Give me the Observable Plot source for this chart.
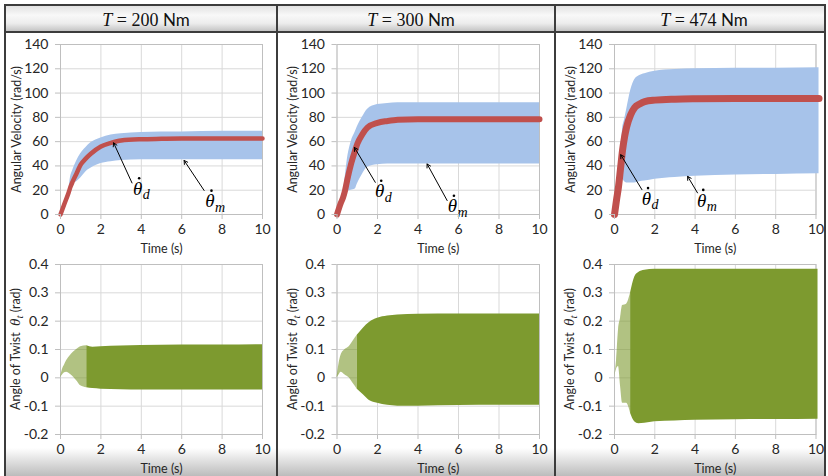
<!DOCTYPE html>
<html><head><meta charset="utf-8">
<script src="https://cdn.jsdelivr.net/npm/d3@7"></script>
<script src="https://cdn.jsdelivr.net/npm/@observablehq/plot@0.6"></script>
<style>
html,body{margin:0;padding:0;background:#fff;}
#fig{position:relative;width:828px;height:476px;overflow:hidden;background:#fff;font-family:Lato,"Open Sans",sans-serif;}
.hdr{position:absolute;top:5px;height:27px;background:linear-gradient(to bottom,#e0e0e0 0%,#f8f8f8 38%,#ececec 68%,#bfbfbf 100%);}
.band{position:absolute;top:448px;height:28px;background:linear-gradient(to bottom,rgba(255,255,255,0) 0%,#dadada 55%,#bcbcbc 100%);}
.ttl{position:absolute;top:5px;height:27px;line-height:29px;font-size:18px;white-space:nowrap;transform:translateX(-50%);color:#111;font-family:"Liberation Serif","DejaVu Serif",serif;}
.ttl i{font-family:"Liberation Serif","DejaVu Serif",serif;}
.ttl .u{font-family:Lato,"Open Sans",sans-serif;font-size:17px;}
.ln{position:absolute;background:#3c3c3c;}
.panel{position:absolute;}
</style></head>
<body>
<div id="fig"></div>
<script>
// ---------- data ----------
const torques = ["200", "300", "474"];
const xTicks = [0, 2, 4, 6, 8, 10];
const velTicks = [0, 20, 40, 60, 80, 100, 120, 140];
const twistTicks = [-0.2, -0.1, 0, 0.1, 0.2, 0.3, 0.4];

// T = 200 Nm : angular velocity
const t1   = [0, 0.2, 0.4, 0.5, 0.6, 0.8, 1, 1.25, 1.5, 2, 2.5, 3, 4, 5, 6, 8, 10];
const red1 = [0, 9, 18, 23, 27, 34, 41, 46, 50, 56, 59, 61, 62, 62.3, 62.5, 62.5, 62.5];
const hi1  = [0, 9, 19, 31, 36, 44, 50, 55, 59, 63, 65.5, 66.5, 67.5, 68, 68, 68.5, 68.5];
const lo1  = [0, 9, 17, 22, 25, 27, 30, 35, 38, 42, 43.5, 44.5, 45, 45, 45, 45, 45];
// T = 300 Nm
const t2   = [0, 0.2, 0.3, 0.4, 0.5, 0.7, 0.9, 1, 1.25, 1.5, 2, 2.5, 3, 4, 6, 8, 10];
const red2 = [0, 10, 14, 20, 28, 42, 53, 58, 66, 71.5, 75.5, 77, 78, 78.5, 78.5, 78.5, 78.5];
const hi2  = [0, 10, 16, 30, 44, 60, 68, 72, 80, 86.5, 90.5, 91.5, 92, 92, 92, 92, 92];
const lo2  = [0, 10, 13, 18, 19, 20, 21, 25, 33, 39, 41, 41.5, 41.5, 41.5, 41.5, 41.5, 41.5];
// T = 474 Nm
const t3   = [0, 0.1, 0.2, 0.3, 0.4, 0.5, 0.6, 0.8, 1, 1.25, 1.5, 2, 3, 4, 6, 8, 10.15];
const red3 = [0, 12, 23, 38, 53, 64, 72, 82, 88, 91, 93, 94.2, 95, 95.3, 95.5, 95.5, 95.5];
const hi3  = [0, 12, 24, 45, 70, 78, 86, 102, 111, 114.5, 116, 118, 119.5, 120, 120.5, 120.5, 120.8];
const lo3  = [0, 12, 16, 15, 29, 27, 26, 26, 26, 27, 27.5, 29, 30.5, 31.5, 32.5, 33, 33.5];

// angle of twist envelopes
const t4  = [0, 0.1, 0.2, 0.3, 0.5, 0.8, 1, 1.3, 1.6, 2, 3, 4, 6, 8, 10];
const hi4 = [0, 0.03, 0.045, 0.06, 0.08, 0.1, 0.11, 0.113, 0.108, 0.11, 0.112, 0.114, 0.116, 0.116, 0.117];
const lo4 = [0, 0.01, 0.018, 0.02, 0.012, -0.01, -0.028, -0.035, -0.038, -0.04, -0.042, -0.043, -0.043, -0.043, -0.043];
const t5  = [0, 0.1, 0.2, 0.4, 0.6, 0.8, 1, 1.3, 1.6, 2, 2.5, 3, 4, 6, 8, 10];
const hi5 = [0, 0.05, 0.08, 0.1, 0.11, 0.13, 0.15, 0.175, 0.195, 0.21, 0.218, 0.222, 0.224, 0.225, 0.225, 0.225];
const lo5 = [0, 0.01, 0.02, 0.01, 0, -0.02, -0.04, -0.06, -0.08, -0.09, -0.097, -0.1, -0.1, -0.098, -0.097, -0.097];
const t6  = [0, 0.1, 0.2, 0.3, 0.4, 0.6, 0.8, 1, 1.2, 1.5, 2, 3, 4, 6, 8, 10.1];
const hi6 = [0, 0.06, 0.17, 0.21, 0.255, 0.26, 0.3, 0.355, 0.372, 0.38, 0.383, 0.383, 0.383, 0.383, 0.383, 0.383];
const lo6 = [0, 0.03, 0.04, -0.03, -0.09, -0.09, -0.126, -0.155, -0.162, -0.16, -0.155, -0.152, -0.15, -0.148, -0.147, -0.146];

// annotation anchors [label x, label y, arrow start x, y, arrow end x, y]
const annD = [[3.82, 21.2, 3.54, 26, 2.63, 59], [2.11, 19.1, 1.89, 26.5, 0.86, 55.2], [1.59, 13.1, 1.36, 20.5, 0.31, 49.2]];
const annM = [[7.4, 11, 7.11, 19.8, 6.12, 44.5], [5.7, 6.8, 5.44, 11.5, 4.45, 41.6], [4.33, 11.6, 4.12, 17.8, 3.63, 31.4]];
const redWidths = [4.5, 6, 7];
const lightUntil = [1.3, 1.0, 0.8];

// ---------- layout ----------
const fig = document.getElementById("fig");
function div(cls, css, html) {
  const d = document.createElement("div");
  d.className = cls; Object.assign(d.style, css); if (html) d.innerHTML = html;
  fig.appendChild(d); return d;
}
const cells = [[6, 276], [278, 554], [556, 824]];
cells.forEach(([a, b]) => {
  div("hdr", {left: a + "px", width: (b - a) + "px"});
  div("band", {left: a + "px", width: (b - a) + "px"});
});
const ttlX = [146, 411, 704];
torques.forEach((T, i) => div("ttl", {left: ttlX[i] + "px"}, `<i>T</i> = ${T} <span class="u">Nm</span>`));

const frames = [[60, 262], [336.5, 539], [614, 815.5]];
const FONT = "Lato, 'Open Sans', sans-serif";
const serif = "'Liberation Serif', 'DejaVu Serif', serif";

function makePanel(col, row) {
  const [cellL, cellR] = cells[col];
  const [fx0, fx1] = frames[col];
  const top = row === 0 ? 33 : 252;
  const height = 224;
  const mT = row === 0 ? 11 : 12;
  const mB = row === 0 ? 43 : 42;
  const width = cellR - cellL;
  const mL = fx0 - cellL, mR = cellR - fx1;
  const yDomain = row === 0 ? [0, 140] : [-0.2, 0.4];
  const yt = row === 0 ? velTicks : twistTicks;
  const marks = [
    Plot.gridX(xTicks, {stroke: "#d9d9d9", strokeOpacity: 1}),
    Plot.gridY(yt, {stroke: "#d9d9d9", strokeOpacity: 1}),
    Plot.frame({stroke: "#bfbfbf"})
  ];
  if (row === 0) {
    const T = [t1, t2, t3][col], R = [red1, red2, red3][col], H = [hi1, hi2, hi3][col], L = [lo1, lo2, lo3][col];
    const env = T.map((t, i) => ({t, hi: H[i], lo: L[i], red: R[i]}));
    marks.push(
      Plot.areaY(env, {x: "t", y1: "lo", y2: "hi", fill: "#a7c3ea", curve: "monotone-x"}),
      Plot.line(env, {x: "t", y: "red", stroke: "#c0504d", strokeWidth: redWidths[col], curve: "monotone-x"})
    );
    const d = annD[col], m = annM[col];
    marks.push(
      Plot.arrow([d, m], {x1: a => a[2], y1: a => a[3], x2: a => a[4], y2: a => a[5], stroke: "#000", strokeWidth: 1, headLength: 6}),
      Plot.text([d, m], {x: a => a[0], y: a => a[1], text: () => "\u03B8", fontFamily: serif, fontStyle: "italic", fontSize: 19, fill: "#000"}),
      Plot.dot([d, m], {x: a => a[0], y: a => a[1], r: 1.3, fill: "#000", stroke: null, dx: 1.5, dy: -10.5}),
      Plot.text([d], {x: a => a[0], y: a => a[1], text: () => "d", fontFamily: serif, fontStyle: "italic", fontSize: 14, dx: 5, dy: 6, textAnchor: "start", fill: "#000"}),
      Plot.text([m], {x: a => a[0], y: a => a[1], text: () => "m", fontFamily: serif, fontStyle: "italic", fontSize: 14, dx: 5, dy: 6, textAnchor: "start", fill: "#000"})
    );
  } else {
    const T = [t4, t5, t6][col], H = [hi4, hi5, hi6][col], L = [lo4, lo5, lo6][col];
    const env = T.map((t, i) => ({t, hi: H[i], lo: L[i]}));
    const cut = lightUntil[col];
    marks.push(
      Plot.areaY(env.filter(e => e.t <= cut), {x: "t", y1: "lo", y2: "hi", fill: "#7d9a2f", fillOpacity: 0.6, curve: "monotone-x"}),
      Plot.areaY(env.filter(e => e.t >= cut), {x: "t", y1: "lo", y2: "hi", fill: "#7d9a2f", curve: "monotone-x"})
    );
  }
  marks.push(
    Plot.axisX(xTicks, {tickSize: 5, tickPadding: 5, stroke: "#bfbfbf", color: "#262626", fontSize: 14, label: null}),
    Plot.axisY(yt, {tickSize: 5, tickPadding: 7, stroke: "#bfbfbf", color: "#262626", fontSize: 14, label: null, tickFormat: v => String(v)}),
    Plot.text(["Time (s)"], {frameAnchor: "bottom", lineAnchor: "middle", dy: 34, fontSize: 12.5, fill: "#262626"})
  );
  if (row === 0) {
    marks.push(Plot.text(["Angular Velocity (rad/s)"], {frameAnchor: "left", rotate: -90, dx: -44, textAnchor: "middle", lineAnchor: "middle", fontSize: 12.5, fill: "#262626"}));
  }
  const svg = Plot.plot({
    width, height, marginLeft: mL, marginRight: mR, marginTop: mT, marginBottom: mB,
    style: {background: "transparent", fontFamily: FONT, overflow: "visible"},
    x: {domain: [0, 10]}, y: {domain: yDomain},
    marks
  });
  if (row === 1) {
    const cx = mL - 44, cy = mT + (height - mT - mB) / 2;
    const t = d3.select(svg).append("text")
      .attr("transform", `translate(${cx},${cy}) rotate(-90)`)
      .attr("text-anchor", "middle").attr("dy", "0.35em")
      .attr("font-size", 12.5).attr("fill", "#262626").style("white-space", "pre");
    t.append("tspan").text("Angle of Twist  ");
    t.append("tspan").attr("font-family", serif).attr("font-style", "italic").attr("font-size", 15).text("\u03B8");
    t.append("tspan").attr("font-family", serif).attr("font-style", "italic").attr("font-size", 11).attr("dy", 3).text("t");
    t.append("tspan").attr("dy", -3).text(" (rad)");
  }
  const holder = div("panel", {left: cellL + "px", top: top + "px", width: width + "px", height: height + "px"});
  holder.appendChild(svg);
}
for (let r = 0; r < 2; r++) for (let c = 0; c < 3; c++) makePanel(c, r);

// borders
div("ln", {left: "4px", top: "4px", width: "822px", height: "2px"});
div("ln", {left: "4px", top: "31px", width: "822px", height: "2px"});
div("ln", {left: "4px", top: "4px", width: "2px", height: "472px"});
div("ln", {left: "276px", top: "4px", width: "2px", height: "472px"});
div("ln", {left: "554px", top: "4px", width: "2px", height: "472px"});
div("ln", {left: "824px", top: "4px", width: "2px", height: "472px"});
</script>
</body></html>
